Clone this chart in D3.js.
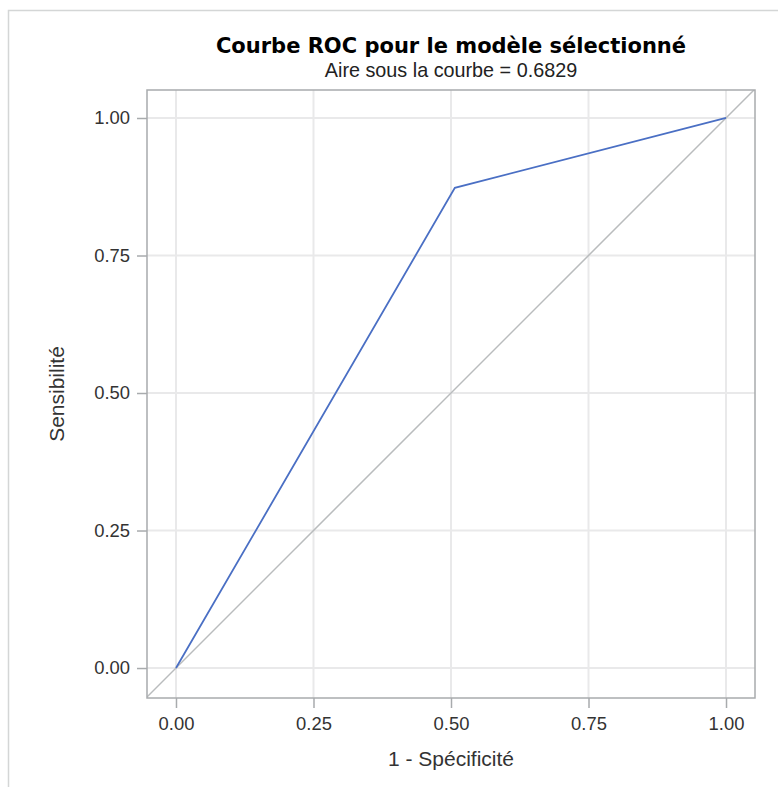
<!DOCTYPE html>
<html>
<head>
<meta charset="utf-8">
<script src="https://cdn.jsdelivr.net/npm/d3@7"></script>
<style>
  body { margin: 0; background: #fff; }
  text { font-family: "Liberation Sans", Arial, sans-serif; }
</style>
</head>
<body>
<div id="chart"></div>
<script>
// ROC curve points (1 - specificity, sensitivity)
const fpr = [0, 0.507, 1];
const tpr = [0, 0.873, 1];
const tickValues = [0, 0.25, 0.5, 0.75, 1];
const titleText = "Courbe ROC pour le modèle sélectionné";
const subtitleText = "Aire sous la courbe = 0.6829";
const xLabel = "1 - Spécificité";
const yLabel = "Sensibilité";

const width = 778, height = 787;
const plot = {left: 147, top: 90, right: 755, bottom: 698};

const svg = d3.select("#chart").append("svg")
  .attr("width", width)
  .attr("height", height);

// outer frame
svg.append("path")
  .attr("d", "M8.5,787 L8.5,10.5 L778,10.5")
  .attr("fill", "none")
  .attr("stroke", "#d4d6d6")
  .attr("stroke-width", 1.5);

const x = d3.scaleLinear().domain([-0.0527, 1.0527]).range([plot.left, plot.right]);
const y = d3.scaleLinear().domain([-0.0545, 1.0509]).range([plot.bottom, plot.top]);

// grid
const grid = svg.append("g");
grid.selectAll(".gx").data(tickValues).enter().append("line")
  .attr("x1", d => x(d)).attr("x2", d => x(d))
  .attr("y1", plot.top).attr("y2", plot.bottom)
  .attr("stroke", "#e9e9ea").attr("stroke-width", 2);
grid.selectAll(".gy").data(tickValues).enter().append("line")
  .attr("y1", d => y(d)).attr("y2", d => y(d))
  .attr("x1", plot.left).attr("x2", plot.right)
  .attr("stroke", "#e9e9ea").attr("stroke-width", 2);

svg.append("clipPath").attr("id", "clip")
  .append("rect")
  .attr("x", plot.left).attr("y", plot.top)
  .attr("width", plot.right - plot.left).attr("height", plot.bottom - plot.top);

// diagonal reference line
svg.append("line")
  .attr("clip-path", "url(#clip)")
  .attr("x1", x(-0.0527)).attr("y1", y(-0.0527))
  .attr("x2", x(1.0527)).attr("y2", y(1.0527))
  .attr("stroke", "#b9bcbd").attr("stroke-width", 1.5);

// ROC curve
const line = d3.line().x((d, i) => x(fpr[i])).y((d, i) => y(tpr[i]));
svg.append("path")
  .datum(fpr)
  .attr("d", line)
  .attr("fill", "none")
  .attr("stroke", "#4a6fc4")
  .attr("stroke-width", 1.8);

// axes
const xAxis = svg.append("g")
  .attr("transform", "translate(0," + plot.bottom + ")")
  .call(d3.axisBottom(x).tickValues(tickValues).tickFormat(d3.format(".2f")).tickSize(10).tickSizeOuter(0).tickPadding(9));
const yAxis = svg.append("g")
  .attr("transform", "translate(" + plot.left + ",0)")
  .call(d3.axisLeft(y).tickValues(tickValues).tickFormat(d3.format(".2f")).tickSize(10).tickSizeOuter(0).tickPadding(7));

[xAxis, yAxis].forEach(a => {
  a.select(".domain").remove();
  a.selectAll(".tick line").attr("stroke", "#a8abad").attr("stroke-width", 1.5);
  a.selectAll(".tick text")
    .attr("fill", "#333")
    .style("font-family", "'Liberation Sans', Arial, sans-serif")
    .style("font-size", "18.4px");
});

// plot frame
svg.append("rect")
  .attr("x", plot.left).attr("y", plot.top)
  .attr("width", plot.right - plot.left).attr("height", plot.bottom - plot.top)
  .attr("fill", "none")
  .attr("stroke", "#a8abad")
  .attr("stroke-width", 1.5);

// titles
const cx = (plot.left + plot.right) / 2;
svg.append("text")
  .attr("x", cx).attr("y", 53)
  .attr("text-anchor", "middle")
  .style("font-family", "'DejaVu Sans', sans-serif")
  .style("font-weight", "bold")
  .style("font-size", "21px")
  .attr("fill", "#000")
  .text(titleText);
svg.append("text")
  .attr("x", cx).attr("y", 77)
  .attr("text-anchor", "middle")
  .style("font-size", "19.8px")
  .attr("fill", "#222")
  .text(subtitleText);

svg.append("text")
  .attr("x", cx).attr("y", 766)
  .attr("text-anchor", "middle")
  .style("font-size", "21px")
  .attr("fill", "#333")
  .text(xLabel);
svg.append("text")
  .attr("transform", "translate(64," + ((plot.top + plot.bottom) / 2) + ") rotate(-90)")
  .attr("text-anchor", "middle")
  .style("font-size", "21px")
  .attr("fill", "#333")
  .text(yLabel);
</script>
</body>
</html>
